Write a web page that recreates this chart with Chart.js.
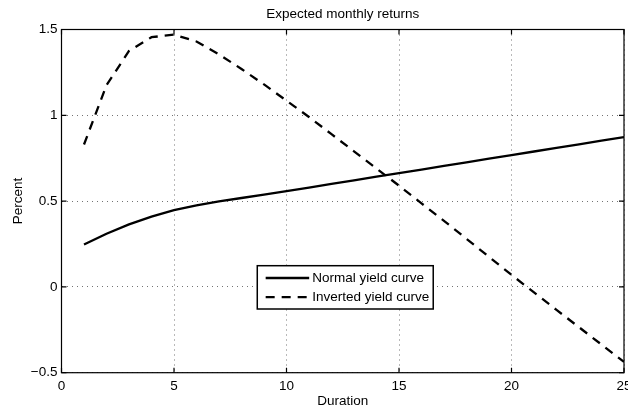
<!DOCTYPE html>
<html>
<head>
<meta charset="utf-8">
<title>Expected monthly returns</title>
<script src="https://cdn.jsdelivr.net/npm/chart.js@4.4.0/dist/chart.umd.min.js"></script>
<style>
    html, body { margin: 0; padding: 0; background: #fff; }
    #wrap { width: 628px; height: 409px; position: relative; }
</style>
</head>
<body>
<div id="wrap"><canvas id="returnsChart"></canvas></div>
<script>
// Expected monthly returns (percent) against duration
const durations = [1, 2, 3, 4, 5, 6, 7, 8, 9, 10, 11, 12, 13, 14, 15, 16, 17, 18, 19, 20, 21, 22, 23, 24, 25];
const normalCurve = [0.247, 0.31, 0.364, 0.41, 0.447, 0.475, 0.498, 0.518, 0.538, 0.558, 0.579, 0.600, 0.621,
                     0.642, 0.663, 0.684, 0.705, 0.726, 0.747, 0.768, 0.789, 0.810, 0.831, 0.852, 0.873];
const invertedCurve = [0.83, 1.175, 1.375, 1.455, 1.47, 1.43, 1.355, 1.27, 1.18, 1.085, 0.99, 0.89, 0.79,
                       0.69, 0.59, 0.487, 0.385, 0.28, 0.175, 0.07, -0.032, -0.134, -0.235, -0.336, -0.437];
const seriesLabels = ['Normal yield curve', 'Inverted yield curve'];
const xTicks = [0, 5, 10, 15, 20, 25];
const yTicks = [-0.5, 0, 0.5, 1, 1.5];

const FONT_FAMILY = "'Liberation Sans', Arial, Helvetica, sans-serif";
const FONT_SIZE = 13.5;

Chart.defaults.font.family = FONT_FAMILY;
Chart.defaults.font.size = FONT_SIZE;
Chart.defaults.color = '#000';

// Format numbers the way the axes show them (true minus sign)
function formatTick(v) {
    const s = String(Math.abs(v));
    return v < 0 ? '\u2212' + s : s;
}

function toPoints(values) {
    return durations.map((d, i) => ({ x: d, y: values[i] }));
}

// Box frame, inward tick marks and the boxed legend
const axesBox = {
    id: 'axesBox',
    afterDraw(chart) {
        const { ctx, chartArea: a, scales: { x, y } } = chart;
        ctx.save();
        ctx.strokeStyle = '#000';
        ctx.lineWidth = 1.2;
        ctx.setLineDash([]);
        ctx.strokeRect(a.left, a.top, a.width, a.height);

        const len = 5;
        ctx.beginPath();
        xTicks.forEach(v => {
            const px = x.getPixelForValue(v);
            ctx.moveTo(px, a.bottom); ctx.lineTo(px, a.bottom - len);
            ctx.moveTo(px, a.top); ctx.lineTo(px, a.top + len);
        });
        yTicks.forEach(v => {
            const py = y.getPixelForValue(v);
            ctx.moveTo(a.left, py); ctx.lineTo(a.left + len, py);
            ctx.moveTo(a.right, py); ctx.lineTo(a.right - len, py);
        });
        ctx.stroke();

        // legend
        ctx.font = FONT_SIZE + 'px ' + FONT_FAMILY;
        const sets = chart.data.datasets;
        const sample = 43.5, gap = 3, padL = 8.4, padR = 4;
        const textW = Math.max(...sets.map(ds => ctx.measureText(ds.label).width));
        const w = padL + sample + gap + textW + padR;
        const h = 43.3;
        const left = (a.left + a.right) / 2 - w / 2 + 2.5;
        const top = a.top + 236.2;
        ctx.fillStyle = '#fff';
        ctx.fillRect(left, top, w, h);
        ctx.lineWidth = 1.5;
        ctx.strokeRect(left, top, w, h);

        const rows = [top + 12.3, top + 31.4];
        sets.forEach((ds, i) => {
            ctx.beginPath();
            ctx.lineWidth = ds.borderWidth;
            ctx.setLineDash(ds.borderDash || []);
            ctx.moveTo(left + padL, rows[i]);
            ctx.lineTo(left + padL + sample, rows[i]);
            ctx.stroke();
            ctx.setLineDash([]);
            ctx.fillStyle = '#000';
            ctx.textAlign = 'left';
            ctx.textBaseline = 'middle';
            ctx.fillText(ds.label, left + padL + sample + gap, rows[i] + 0.5);
        });
        ctx.restore();
    }
};

function initializeReturnsChart() {
    const ctx = document.getElementById('returnsChart');

    new Chart(ctx, {
        type: 'line',
        data: {
            datasets: [{
                label: seriesLabels[0],
                data: toPoints(normalCurve),
                borderColor: '#000',
                borderWidth: 2.3,
                pointRadius: 0,
                tension: 0,
                fill: false
            }, {
                label: seriesLabels[1],
                data: toPoints(invertedCurve),
                borderColor: '#000',
                borderWidth: 2.3,
                borderDash: [9, 7],
                pointRadius: 0,
                tension: 0,
                fill: false
            }]
        },
        options: {
            responsive: true,
            maintainAspectRatio: false,
            animation: false,
            layout: { padding: { left: 0, right: 4, top: 0, bottom: 0 } },
            scales: {
                x: {
                    type: 'linear',
                    min: 0,
                    max: 25,
                    afterBuildTicks: scale => { scale.ticks = xTicks.map(v => ({ value: v })); },
                    afterFit: scale => {
                        scale.height = 36.3;
                        scale.paddingLeft = 0;
                        scale.paddingRight = 0;
                    },
                    grid: { color: 'rgba(0,0,0,0.55)', lineWidth: 1, drawTicks: false },
                    border: { display: false, dash: [1, 4] },
                    ticks: {
                        padding: 5,
                        maxRotation: 0,
                        autoSkip: false,
                        callback: v => formatTick(v)
                    },
                    title: {
                        display: true,
                        text: 'Duration',
                        padding: { top: 0, bottom: 0 }
                    }
                },
                y: {
                    min: -0.5,
                    max: 1.5,
                    afterBuildTicks: scale => { scale.ticks = yTicks.map(v => ({ value: v })); },
                    afterFit: scale => {
                        scale.width = 61.5;
                        scale.paddingTop = 0;
                        scale.paddingBottom = 0;
                    },
                    grid: { color: 'rgba(0,0,0,0.55)', lineWidth: 1, drawTicks: false },
                    border: { display: false, dash: [1, 4] },
                    ticks: {
                        padding: 4,
                        autoSkip: false,
                        callback: v => formatTick(v)
                    },
                    title: {
                        display: true,
                        text: 'Percent',
                        padding: { top: 10, bottom: 0 }
                    }
                }
            },
            plugins: {
                legend: { display: false },
                tooltip: { enabled: false },
                title: {
                    display: true,
                    fullSize: false,
                    text: 'Expected monthly returns',
                    color: '#000',
                    font: { size: FONT_SIZE, weight: 'normal' },
                    padding: { top: 6, bottom: 7.3 }
                }
            }
        },
        plugins: [axesBox]
    });
}

document.addEventListener('DOMContentLoaded', initializeReturnsChart);
</script>
</body>
</html>
